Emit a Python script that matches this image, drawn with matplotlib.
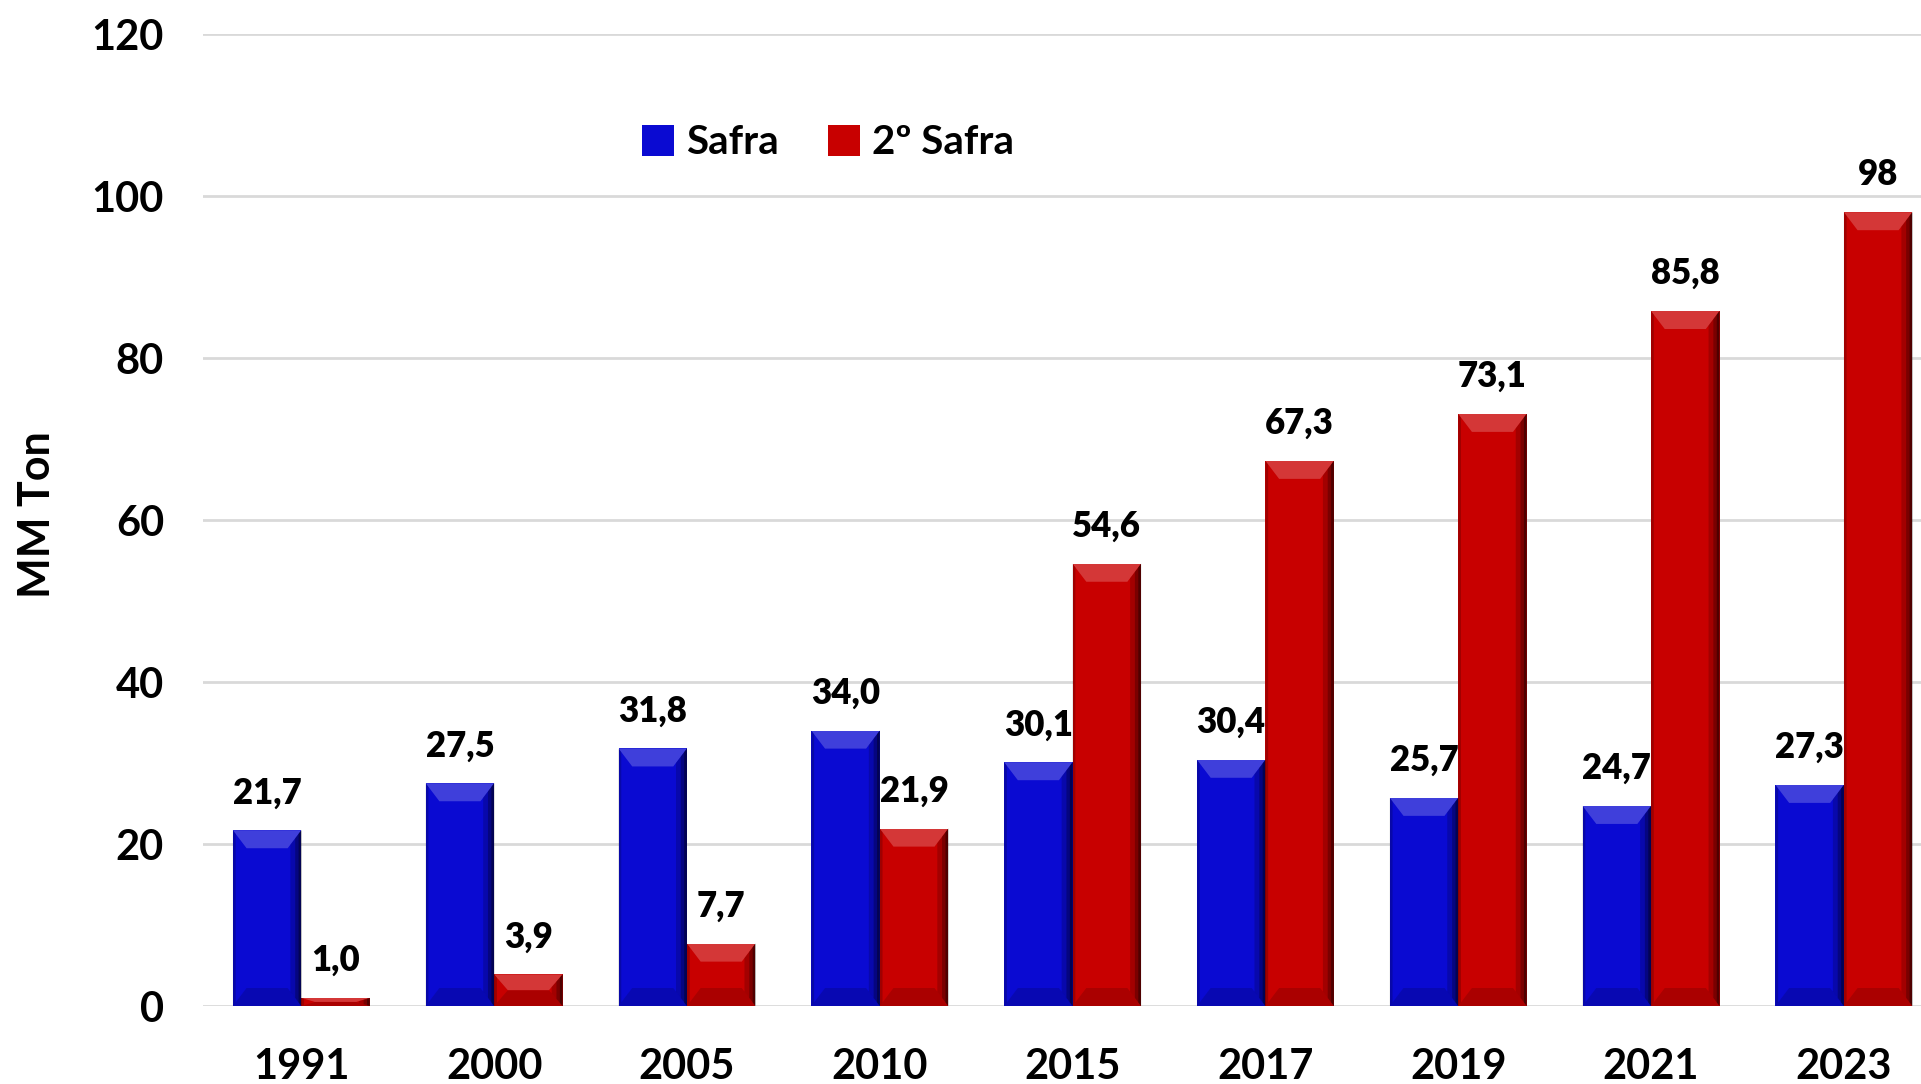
"""Safra vs 2a safra bar chart."""

import numpy as np
import matplotlib
matplotlib.use('Agg')
import matplotlib.pyplot as plt
from matplotlib.patches import Polygon

YEARS = ['1991', '2000', '2005', '2010', '2015', '2017', '2019', '2021', '2023']
SAFRA = [21.7, 27.5, 31.8, 34.0, 30.1, 30.4, 25.7, 24.7, 27.3]
SAFRA_2 = [1.0, 3.9, 7.7, 21.9, 54.6, 67.3, 73.1, 85.8, 98.0]
LABELS_1 = ['21,7', '27,5', '31,8', '34,0', '30,1', '30,4', '25,7', '24,7', '27,3']
LABELS_2 = ['1,0', '3,9', '7,7', '21,9', '54,6', '67,3', '73,1', '85,8', '98']

BLUE = '#0a0ad2'
RED = '#c80000'
FONT = 'Lato'


def bevel(ax, bar, px_h):
    """Adds a simple beveled look on top of one bar."""
    x0, w, h = bar.get_x(), bar.get_width(), bar.get_height()
    x1 = x0 + w
    bx = w * 0.2
    by = min(px_h, h / 2.0)
    bx = min(bx, w / 2.0)
    # top facet (lighter)
    ax.add_patch(Polygon([(x0, h), (x1, h), (x1 - bx, h - by), (x0 + bx, h - by)],
                         closed=True, facecolor='white', alpha=0.22, lw=0, zorder=3))
    # bottom facet (darker)
    ax.add_patch(Polygon([(x0, 0), (x1, 0), (x1 - bx, by), (x0 + bx, by)],
                         closed=True, facecolor='black', alpha=0.15, lw=0, zorder=3))
    # right side shading
    for frac, a in [(0.16, 0.18), (0.09, 0.25), (0.04, 0.35)]:
        ax.add_patch(Polygon([(x1 - w * frac, by * frac / 0.2), (x1, 0), (x1, h),
                              (x1 - w * frac, h - by * frac / 0.2)],
                             closed=True, facecolor='black', alpha=a, lw=0, zorder=3))
    # left edge
    ax.add_patch(Polygon([(x0, 0), (x0 + w * 0.04, by * 0.2), (x0 + w * 0.04, h - by * 0.2), (x0, h)],
                         closed=True, facecolor='black', alpha=0.2, lw=0, zorder=3))


def main():
    plt.rcParams['font.family'] = [FONT, 'DejaVu Sans']
    plt.rcParams['font.weight'] = 'bold'

    fig = plt.figure(figsize=(19.21, 10.84), dpi=100)
    ax = fig.add_axes([203 / 1921, 1 - 1006 / 1084, 1 - 203 / 1921, (1006 - 34) / 1084])

    x = np.arange(len(YEARS))
    w = 0.355
    bars1 = ax.bar(x - w / 2, SAFRA, w, color=BLUE, label='Safra', zorder=2)
    bars2 = ax.bar(x + w / 2, SAFRA_2, w, color=RED, label='2º Safra', zorder=2)

    ax.set_xlim(-0.51, 8.40)
    ax.set_ylim(0, 120)
    ax.set_yticks(range(0, 121, 20))
    ax.set_xticks(x)
    ax.set_xticklabels(YEARS)
    ax.yaxis.grid(True, color='#d9d9d9', linewidth=2)
    ax.set_axisbelow(True)
    for s in ax.spines.values():
        s.set_visible(False)
    ax.tick_params(axis='both', length=0, labelsize=30)
    ax.tick_params(axis='x', pad=30)
    ax.tick_params(axis='y', pad=28)

    # bevel height of ~18 px converted to data units
    px_h = 18 * 120 / (1006 - 34)
    for b in list(bars1) + list(bars2):
        bevel(ax, b, px_h)

    for bars, labels in [(bars1, LABELS_1), (bars2, LABELS_2)]:
        for b, lab in zip(bars, labels):
            ax.annotate(lab, (b.get_x() + b.get_width() / 2, b.get_height()),
                        xytext=(0, 15), textcoords='offset points',
                        ha='center', va='bottom', fontsize=25, fontweight='heavy')

    fig.text(37 / 1921, 1 - 515 / 1084, 'MM Ton', rotation=90, ha='center', va='center',
             fontsize=31, fontweight='bold')

    ax.legend(loc='center', bbox_to_anchor=(828 / 1921, 1 - 143 / 1084),
              bbox_transform=fig.transFigure, ncol=2, frameon=False,
              fontsize=29, handlelength=0.8, handleheight=0.8, handletextpad=0.3,
              columnspacing=1.2)

    plt.savefig('out.png', dpi=100)
    plt.close()


if __name__ == '__main__':
    main()
